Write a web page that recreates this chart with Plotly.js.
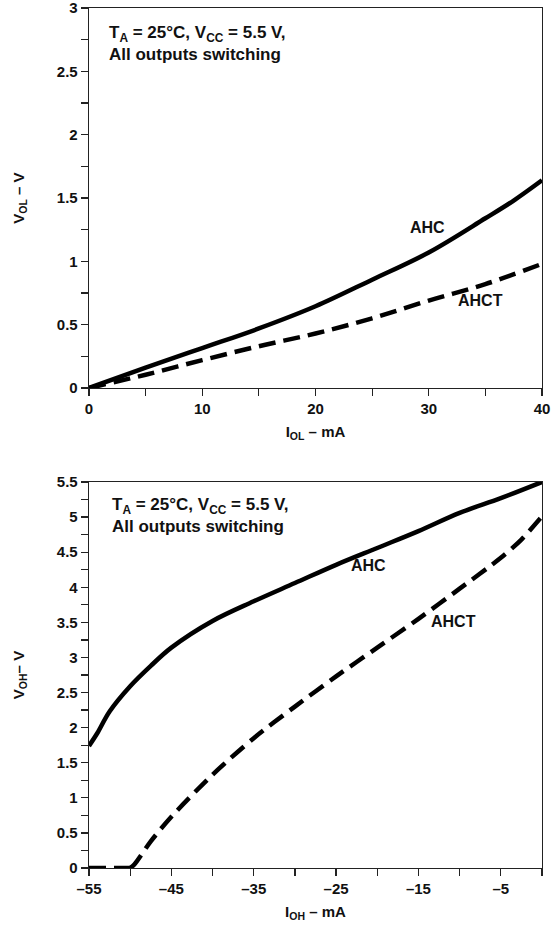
<!DOCTYPE html>
<html><head><meta charset="utf-8">
<script src="https://cdn.plot.ly/plotly-3.0.1.min.js"></script>
<style>html,body{margin:0;padding:0;background:#fff}#chart{width:552px;height:925px}</style>
</head><body><div id="chart"></div>
<script>
// Top chart: V_OL vs I_OL
const iolAhc = [0, 5, 10, 15, 20, 25, 30, 35, 37.5, 40];
const volAhc = [0, 0.16, 0.315, 0.47, 0.645, 0.855, 1.07, 1.34, 1.48, 1.64];
const iolAhct = [0, 5, 10, 15, 20, 25, 30, 35, 40];
const volAhct = [0, 0.105, 0.22, 0.33, 0.43, 0.55, 0.69, 0.82, 0.98];

// Bottom chart: V_OH vs I_OH
const iohAhc = [-55, -54, -52.5, -50, -47.5, -45, -40, -35, -30, -25, -20, -15, -10, -5, 0];
const vohAhc = [1.74, 1.92, 2.23, 2.59, 2.88, 3.14, 3.52, 3.80, 4.06, 4.32, 4.56, 4.80, 5.06, 5.27, 5.5];
const iohAhctFlat = [-55, -50];
const vohAhctFlat = [0, 0];
const iohAhct = [-50, -49.5, -47.5, -45, -40, -35, -30, -25, -20, -15, -10, -5, -2.5, 0];
const vohAhct = [0, 0.05, 0.38, 0.73, 1.33, 1.85, 2.30, 2.73, 3.14, 3.55, 3.98, 4.42, 4.68, 5.01];

const topXTicks = [0, 10, 20, 30, 40];
const topYTicks = [0, 0.5, 1, 1.5, 2, 2.5, 3];
const bottomXTicks = [-55, -45, -35, -25, -15, -5];
const bottomYTicks = [0, 0.5, 1, 1.5, 2, 2.5, 3, 3.5, 4, 4.5, 5, 5.5];

const FONT = "Liberation Sans, Arial, Helvetica, sans-serif";
const tickFont = {family: FONT, size: 15, color: '#111', weight: 700};
const solid = {color: '#000', width: 4.5};
const dashed = {color: '#000', width: 4.5, dash: '17px,8px'};

const traces = [
  {x: iolAhc, y: volAhc, xaxis: 'x', yaxis: 'y', mode: 'lines', line: Object.assign({shape: 'spline'}, solid), name: 'AHC'},
  {x: iolAhct, y: volAhct, xaxis: 'x', yaxis: 'y', mode: 'lines', line: Object.assign({shape: 'spline'}, dashed), name: 'AHCT'},
  {x: iohAhc, y: vohAhc, xaxis: 'x2', yaxis: 'y2', mode: 'lines', line: Object.assign({shape: 'spline'}, solid), name: 'AHC'},
  {x: iohAhctFlat, y: vohAhctFlat, xaxis: 'x2', yaxis: 'y2', mode: 'lines', line: Object.assign({shape: 'linear'}, dashed), name: 'AHCT'},
  {x: iohAhct, y: vohAhct, xaxis: 'x2', yaxis: 'y2', mode: 'lines', line: Object.assign({shape: 'spline', smoothing: 0.8}, dashed), name: 'AHCT'}
];

const minorTicks = (d) => ({dtick: d, tick0: 0, ticks: 'outside', ticklen: 7, tickwidth: 1.2, tickcolor: '#222'});

function axisBase() {
  return {
    showgrid: false, zeroline: false, showline: true, mirror: true,
    linecolor: '#222', linewidth: 1.3,
    ticks: 'outside', ticklen: 7, tickwidth: 1.2, tickcolor: '#222',
    tickfont: tickFont, fixedrange: true, ticklabeloverflow: 'allow'
  };
}

const titleFont = {family: FONT, size: 15, color: '#111', weight: 700};
const noteFont = {family: FONT, size: 17, color: '#111', weight: 700};
const labelFont = {family: FONT, size: 16, color: '#111', weight: 700};

const layout = {
  width: 552, height: 925,
  margin: {l: 0, r: 0, t: 0, b: 0},
  paper_bgcolor: '#fff', plot_bgcolor: '#fff',
  showlegend: false,
  xaxis: Object.assign(axisBase(), {
    domain: [89/552, 542/552], anchor: 'y', range: [0, 40],
    tickvals: topXTicks, ticktext: topXTicks.map(String),
    minor: minorTicks(5),
    title: {text: 'I<sub>OL</sub> – mA', font: titleFont, standoff: 10}
  }),
  yaxis: Object.assign(axisBase(), {
    domain: [1 - 388/925, 1 - 8/925], anchor: 'x', range: [0, 3],
    tickvals: topYTicks, ticktext: topYTicks.map(String),
    minor: minorTicks(0.25),
    title: {text: 'V<sub>OL</sub> – V', font: titleFont, standoff: 28}
  }),
  xaxis2: Object.assign(axisBase(), {
    domain: [89/552, 542/552], anchor: 'y2', range: [-55, 0],
    tickvals: bottomXTicks, ticktext: bottomXTicks.map(v => '–' + Math.abs(v)),
    minor: minorTicks(5),
    title: {text: 'I<sub>OH</sub> – mA', font: titleFont, standoff: 10}
  }),
  yaxis2: Object.assign(axisBase(), {
    domain: [1 - 868/925, 1 - 482/925], anchor: 'x2', range: [0, 5.5],
    tickvals: bottomYTicks, ticktext: bottomYTicks.map(String),
    minor: minorTicks(0.25),
    title: {text: 'V<sub>OH</sub>– V', font: titleFont, standoff: 28}
  }),
  annotations: [
    {xref: 'x', yref: 'y', x: 1.6, y: 2.9, xanchor: 'left', yanchor: 'top', align: 'left', showarrow: false,
     text: 'T<sub>A</sub> = 25°C, V<sub>CC</sub> = 5.5 V,<br>All outputs switching', font: noteFont},
    {xref: 'x', yref: 'y', x: 29.9, y: 1.27, showarrow: false, text: 'AHC', font: labelFont},
    {xref: 'x', yref: 'y', x: 34.6, y: 0.69, showarrow: false, text: 'AHCT', font: labelFont},
    {xref: 'x2', yref: 'y2', x: -52.4, y: 5.35, xanchor: 'left', yanchor: 'top', align: 'left', showarrow: false,
     text: 'T<sub>A</sub> = 25°C, V<sub>CC</sub> = 5.5 V,<br>All outputs switching', font: noteFont},
    {xref: 'x2', yref: 'y2', x: -21.06, y: 4.31, showarrow: false, text: 'AHC', font: labelFont},
    {xref: 'x2', yref: 'y2', x: -10.8, y: 3.51, showarrow: false, text: 'AHCT', font: labelFont}
  ]
};

Plotly.newPlot('chart', traces, layout, {displayModeBar: false, staticPlot: true});
</script>
</body></html>
